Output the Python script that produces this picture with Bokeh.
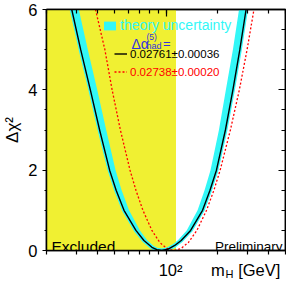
from bokeh.plotting import figure
from bokeh.models import (FixedTicker, SingleIntervalTicker, LogAxis, LinearAxis,
                          Label, Legend, LegendItem, Range1d, CustomJSTickFormatter)
from bokeh.embed import file_html
from bokeh.resources import INLINE

FONT = "Liberation Sans"
YELLOW = "#f0f032"
CYAN = "#33f7f7"
BLUE = "#3333dd"

# ---------------- data ----------------
x_min, x_max = 20, 500
chi_max = 6
excluded_limit = 114.4

# central fit, Delta alpha_had = 0.02761 +- 0.00036 (black line)
mh_central = [28.1, 31.7, 36.1, 40.9, 46.8, 51.1, 56.8, 66.7, 74.3, 82.7, 88.4, 94.5,
              102.4, 112.5, 122.7, 139.3, 163.6, 180.9, 197.3, 222.6, 246.2, 270.3, 294.0]
dchi2_central = [6, 5, 4, 3, 2, 1.5, 1, 0.5, 0.25, 0.08, 0.02, 0,
                 0.03, 0.125, 0.25, 0.5, 1, 1.5, 2, 3, 4, 5, 6]

# inner edge of the theory-uncertainty band
mh_band_inner = [30.9, 34.9, 39.6, 44.7, 50.7, 55.0, 60.8, 70.4, 77.8, 86.0, 91.4, 95.8,
                 99.0, 108.1, 117.1, 132.1, 153.0, 168.1, 182.1, 204.0, 224.0, 246.2, 267.4]
dchi2_band_inner = [6, 5, 4, 3, 2, 1.5, 1, 0.5, 0.25, 0.08, 0.02, 0,
                    0.03, 0.125, 0.25, 0.5, 1, 1.5, 2, 3, 4, 5, 6]

# alternative, Delta alpha_had = 0.02738 +- 0.00020 (red dotted)
mh_alt = [38.7, 43.9, 48.4, 54.1, 61.6, 66.7, 73.3, 82.7, 92.0, 101.1, 111.0,
          122.5, 135.3, 151.6, 172.6, 190.6, 207.4, 238.0, 268.6, 298.0, 327.0]
dchi2_alt = [6, 5, 4, 3, 2, 1.5, 1, 0.5, 0.2, 0.05, 0,
             0.05, 0.2, 0.5, 1, 1.5, 2, 3, 4, 5, 6]

x_major_ticks = [100]
x_minor_ticks = [20, 30, 40, 50, 60, 70, 80, 90, 100, 200, 300, 400, 500]
# bottom row texts: tick label "10²" and the axis title "m_H [GeV]"
x_row_labels = {100: "\u00a0\u00a010²", 201: "m", 351: "[GeV]"}
x_sub_labels = {235: "H"}

label_central = "0.02761±0.00036"
label_alt = "0.02738±0.00020"

# ---------------- figure ----------------
p = figure(width=286, height=285, x_axis_type="log",
           x_range=Range1d(x_min, x_max), y_range=Range1d(0, chi_max),
           output_backend="svg", toolbar_location=None,
           min_border_left=44, min_border_right=1, min_border_top=9, min_border_bottom=35)
p.grid.visible = False
p.background_fill_color = "white"
p.border_fill_color = "white"
p.outline_line_color = "black"
p.outline_line_width = 1.5

# excluded region
p.quad(left=x_min, right=excluded_limit, bottom=0, top=chi_max,
       fill_color=YELLOW, line_color=None)

# theory band and curves
band = p.patch(mh_central + mh_band_inner[::-1], dchi2_central + dchi2_band_inner[::-1],
               fill_color=CYAN, line_color=None)
p.line(mh_central, dchi2_central, line_color=CYAN, line_width=4)
alt = p.line(mh_alt, dchi2_alt, line_color="#ff0000", line_width=1.3, line_dash="2 2")
central = p.line(mh_central, dchi2_central, line_color="black", line_width=1.4)

# ---------------- axes ----------------
yt = SingleIntervalTicker(interval=2, num_minor_ticks=4)

xa = p.xaxis[0]
xa.ticker = FixedTicker(ticks=sorted(x_row_labels), minor_ticks=x_minor_ticks)
xa.major_label_overrides = x_row_labels
xa.major_tick_out = 0
xa.major_tick_in = 0
xa.minor_tick_out = 4
xa.minor_tick_in = 0
xa.major_label_standoff = 6

ya = p.yaxis[0]
ya.ticker = yt
ya.major_tick_out = 4
ya.major_tick_in = 0
ya.minor_tick_out = 2
ya.minor_tick_in = 0
ya.major_label_standoff = 5
ya.axis_label = "Δχ²"
ya.axis_label_text_font = FONT
ya.axis_label_text_font_size = "17px"
ya.axis_label_text_font_style = "normal"
ya.axis_label_text_color = "black"
ya.axis_label_standoff = 3

for ax in (xa, ya):
    ax.axis_line_width = 1.5
    ax.major_tick_line_width = 1.2
    ax.minor_tick_line_width = 1.2
    ax.major_label_text_font = FONT
    ax.major_label_text_font_size = "16.5px"
    ax.major_label_text_color = "black"

# subscript "H" of the x title
xh = LogAxis(ticker=FixedTicker(ticks=sorted(x_sub_labels)), major_label_overrides=x_sub_labels,
             axis_line_color=None, major_tick_line_color=None, minor_tick_line_color=None,
             major_tick_out=0, major_tick_in=0, minor_tick_out=0, minor_tick_in=0,
             major_label_standoff=-14, major_label_text_font=FONT,
             major_label_text_font_size="11px", major_label_text_color="black")
p.add_layout(xh, "below")

# mirrored ticks on top and right
blank = CustomJSTickFormatter(code="return ''")
top = LogAxis(ticker=FixedTicker(ticks=x_major_ticks, minor_ticks=x_minor_ticks), formatter=blank)
right = LinearAxis(ticker=yt, formatter=blank)
for ax in (top, right):
    ax.axis_line_width = 1.5
    ax.major_tick_line_width = 1.2
    ax.minor_tick_line_width = 1.2
    ax.major_tick_in = 7
    ax.major_tick_out = 0
    ax.minor_tick_in = 4
    ax.minor_tick_out = 0
    ax.major_label_standoff = 0
    ax.major_label_text_font_size = "1px"
p.add_layout(top, "above")
p.add_layout(right, "right")

# ---------------- texts inside the frame (screen coords from frame bottom-left) ----------------
FL, FB = 44, 250


def lab(text, px, py, size, color="black", align="left", baseline="alphabetic"):
    p.add_layout(Label(x=px - FL, y=FB - py, x_units="screen", y_units="screen",
                       text=text, text_font=FONT, text_font_size=size, text_color=color,
                       text_align=align, text_baseline=baseline))


lab("Excluded", 49, 246, "15.5px")
lab("Preliminary", 280, 246, "13.5px", align="right")

lab("Δα", 129, 43.5, "14px", BLUE)
lab("(5)", 144, 36.5, "8.5px", BLUE)
lab("had", 144, 45.5, "9px", BLUE)
lab("=", 160.5, 43, "13px", BLUE)


def legend(item_label, rend, color, x, y_top, size, gw, gh, lh, baseline):
    lg = Legend(items=[LegendItem(label=item_label, renderers=[rend])],
                location=(x - FL, FB - (y_top + lh)), orientation="vertical",
                glyph_width=gw, glyph_height=gh, padding=0, margin=0, spacing=0,
                label_standoff=3, label_text_font=FONT, label_text_font_size=size,
                label_text_color=color, label_text_baseline=baseline,
                border_line_color=None, background_fill_alpha=0, label_height=lh)
    p.add_layout(lg)


legend("theory uncertainty", band, CYAN, 100, 16, "14px", 15, 11, 18, "alphabetic")
legend(label_central, central, "black", 112, 47, "11.5px", 13, 13, 13, "middle")
legend(label_alt, alt, "#ff0000", 112, 65, "11.5px", 13, 13, 13, "middle")

open("out.html", "w").write(file_html(p, INLINE))
